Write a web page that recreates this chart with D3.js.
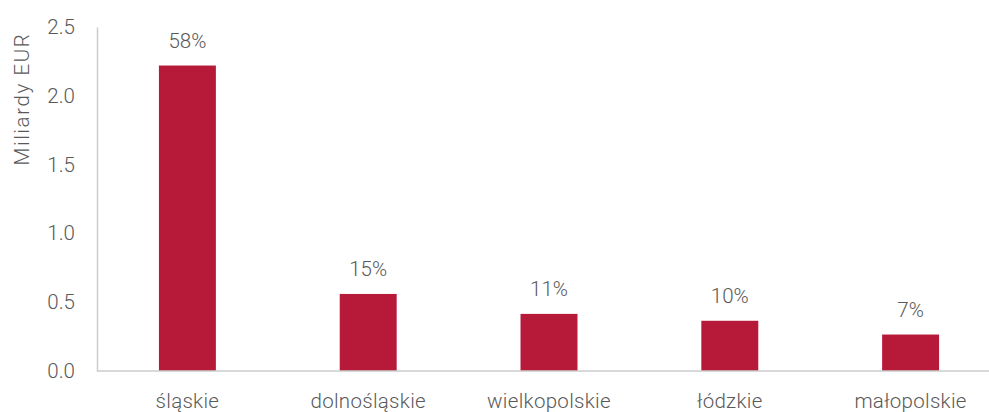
<!DOCTYPE html>
<html>
<head>
<meta charset="utf-8">
<script src="https://cdn.jsdelivr.net/npm/d3@7"></script>
<style>
  body { margin: 0; background: #fff; }
  text { font-family: Roboto, "Noto Sans", sans-serif; font-weight: 300; fill: #595959; }
</style>
</head>
<body>
<svg id="chart" width="989" height="412"></svg>
<script>
// regions and their value (bn EUR) plus share of total
const regions = ["śląskie", "dolnośląskie", "wielkopolskie", "łódzkie", "małopolskie"];
const values = [2.22, 0.56, 0.415, 0.365, 0.265];
const shares = ["58%", "15%", "11%", "10%", "7%"];
const yTicks = [0, 0.5, 1.0, 1.5, 2.0, 2.5];

const width = 989, height = 412;
const margin = { left: 97, right: -12, top: 27, bottom: 41 };
const fs = 20.5;

const svg = d3.select("#chart");

const x = d3.scaleBand()
    .domain(regions)
    .range([margin.left, width - margin.right])
    .paddingInner(0.685)
    .paddingOuter(0.3425);

const y = d3.scaleLinear()
    .domain([0, 2.5])
    .range([height - margin.bottom, margin.top]);

// y axis
const yAxis = svg.append("g")
    .attr("transform", `translate(${margin.left},0)`)
    .call(d3.axisLeft(y).tickValues(yTicks).tickFormat(d3.format(".1f")).tickSize(0).tickPadding(22));
yAxis.select(".domain").attr("stroke", "#cccccc").attr("stroke-width", 1.5);
yAxis.selectAll("text").attr("font-size", fs).attr("fill", "#595959");

svg.append("text")
    .attr("transform", `translate(29,99) rotate(-90)`)
    .attr("text-anchor", "middle")
    .attr("font-size", fs)
    .attr("letter-spacing", 1.6)
    .text("Miliardy EUR");

// bars
svg.append("g")
    .selectAll("rect")
    .data(values)
    .join("rect")
    .attr("x", (d, i) => x(regions[i]))
    .attr("y", d => y(d))
    .attr("width", x.bandwidth())
    .attr("height", d => y(0) - y(d))
    .attr("fill", "#b71939");

// x axis
svg.append("line")
    .attr("x1", margin.left).attr("x2", width)
    .attr("y1", y(0)).attr("y2", y(0))
    .attr("stroke", "#cccccc").attr("stroke-width", 1.5);

svg.append("g")
    .selectAll("text")
    .data(regions)
    .join("text")
    .attr("x", d => x(d) + x.bandwidth() / 2)
    .attr("y", y(0) + 37)
    .attr("text-anchor", "middle")
    .attr("font-size", fs)
    .attr("letter-spacing", 0.3)
    .text(d => d);

// share labels
svg.append("g")
    .selectAll("text")
    .data(values)
    .join("text")
    .attr("x", (d, i) => x(regions[i]) + x.bandwidth() / 2)
    .attr("y", d => y(d) - 18)
    .attr("text-anchor", "middle")
    .attr("font-size", fs)
    .text((d, i) => shares[i]);
</script>
</body>
</html>
